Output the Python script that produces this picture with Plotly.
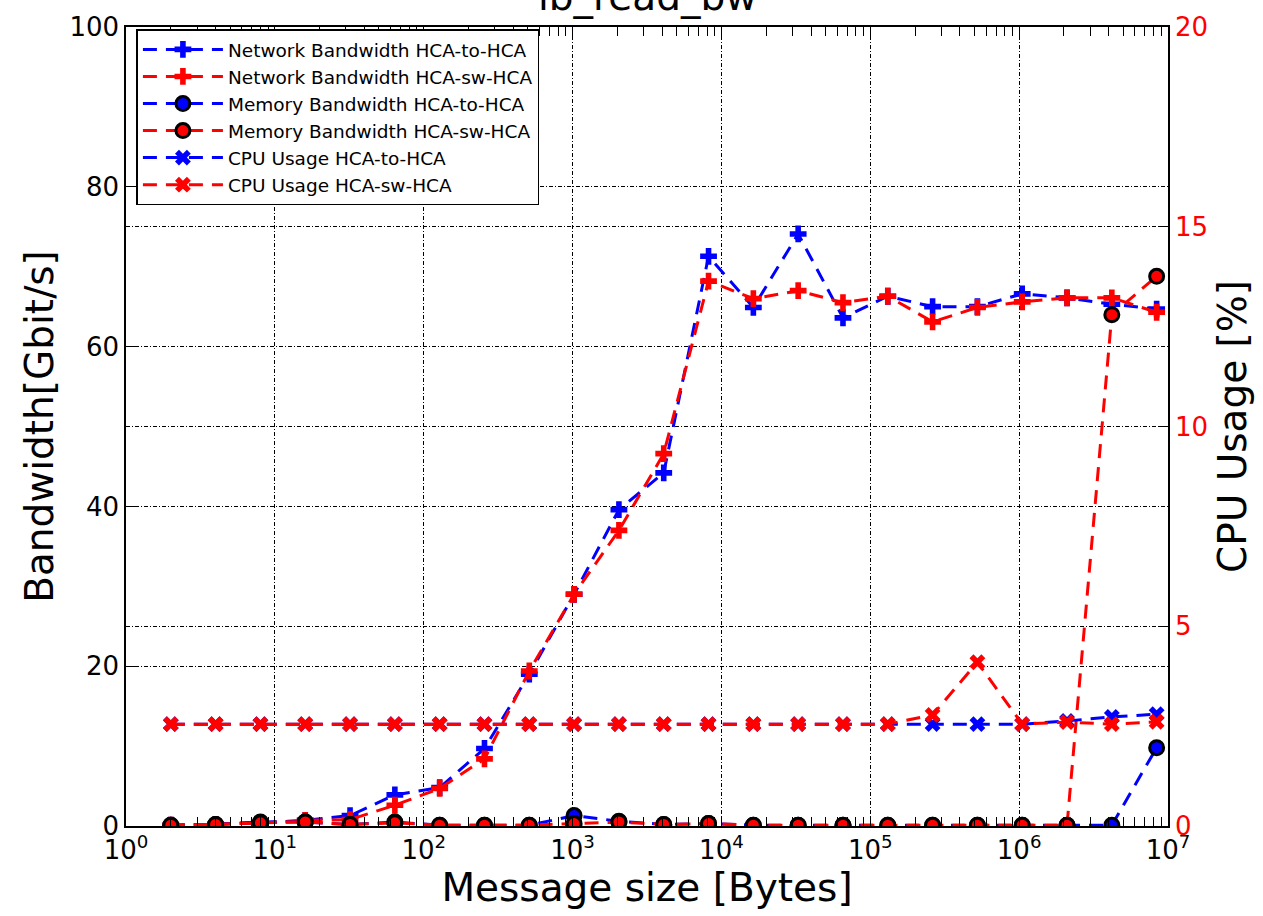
import plotly.graph_objects as go

msg_size = [2 ** k for k in range(1, 24)]

net_h2h = [0.1, 0.2, 0.4, 0.7, 1.3, 3.9, 4.8, 9.7, 19.0, 29.0, 39.6, 44.2, 71.3,
           64.9, 74.1, 63.6, 66.3, 65.0, 65.0, 66.6, 66.1, 65.3, 64.7]
net_sw = [0.1, 0.2, 0.4, 0.7, 0.8, 2.6, 4.7, 8.4, 19.4, 29.0, 37.0, 46.6, 68.2,
          66.0, 67.0, 65.5, 66.3, 63.1, 64.9, 65.6, 66.1, 66.1, 64.3]
mem_h2h = [0.1, 0.2, 0.5, 0.5, 0.2, 0.5, 0.1, 0.1, 0.1, 1.3, 0.6, 0.2, 0.3,
           0.1, 0.1, 0.1, 0.1, 0.1, 0.1, 0.1, 0.1, 0.1, 9.8]
mem_sw = [0.1, 0.2, 0.4, 0.5, 0.2, 0.4, 0.1, 0.1, 0.1, 0.3, 0.5, 0.2, 0.3,
          0.1, 0.1, 0.1, 0.1, 0.1, 0.1, 0.1, 0.1, 64.0, 68.8]
cpu_h2h = [2.55] * 17 + [2.55, 2.55, 2.55, 2.63, 2.73, 2.8]
cpu_sw = [2.55] * 17 + [2.78, 4.1, 2.55, 2.6, 2.55, 2.61]

x_tick_vals = [10 ** d for d in range(0, 8)]
x_tick_text = ["10<sup>%d</sup>" % d for d in range(0, 8)]
y_ticks = [0, 20, 40, 60, 80, 100]
y2_ticks = [0, 5, 10, 15, 20]

BLUE = "#0000ff"
RED = "#ff0000"
FONT = "DejaVu Sans"
DASH = "14px,9px"
GRID_DASH = "4px,2px,1px,2px"
TITLE_SIZE = 39

fig = go.Figure()

def add(name, y, color, kind, axis="y"):
    if kind == "plus":
        marker = dict(symbol="cross", size=14, color=color, line=dict(width=0))
    elif kind == "circle":
        marker = dict(symbol="circle", size=14, color=color, line=dict(color="black", width=3))
    else:
        marker = dict(symbol="x", size=14, color=color, line=dict(width=0))
    fig.add_trace(go.Scatter(
        x=msg_size, y=y, name=name, mode="lines+markers", yaxis=axis,
        line=dict(color=color, width=3, dash=DASH), marker=marker))

add("Network Bandwidth HCA-to-HCA", net_h2h, BLUE, "plus")
add("Network Bandwidth HCA-sw-HCA", net_sw, RED, "plus")
add("Memory Bandwidth HCA-to-HCA", mem_h2h, BLUE, "circle")
add("Memory Bandwidth HCA-sw-HCA", mem_sw, RED, "circle")
add("CPU Usage HCA-to-HCA", cpu_h2h, BLUE, "x", "y2")
add("CPU Usage HCA-sw-HCA", cpu_sw, RED, "x", "y2")

minor_vals = [m * 10 ** d for d in range(0, 7) for m in range(2, 10)]

fig.update_layout(
    width=1263, height=916,
    margin=dict(l=126, r=95, t=20, b=90),
    paper_bgcolor="white", plot_bgcolor="white",
    font=dict(family=FONT, color="black", size=26),
    showlegend=True,
    legend=dict(
        x=0.01, y=0.997, xanchor="left", yanchor="top",
        bgcolor="white", bordercolor="black", borderwidth=1.5,
        font=dict(family=FONT, size=18.5, color="black"),
        itemwidth=80, tracegroupgap=0,
    ),
    xaxis=dict(
        type="log", range=[0, 7],
        tickvals=x_tick_vals, ticktext=x_tick_text,
        ticks="inside", ticklen=9, tickwidth=1.2, tickcolor="black",
        showline=True, linecolor="black", linewidth=1.5, mirror="allticks",
        showgrid=True, gridcolor="black", gridwidth=1, griddash=GRID_DASH,
        zeroline=False,
        tickfont=dict(size=26),
        minor=dict(tickvals=minor_vals, ticks="inside", ticklen=5, tickcolor="black", showgrid=False),
        title=dict(text="Message size [Bytes]", font=dict(size=TITLE_SIZE), standoff=7),
    ),
    yaxis=dict(
        range=[0, 100], tickvals=y_ticks,
        ticks="inside", ticklen=9, tickwidth=1.2, tickcolor="black",
        showline=True, linecolor="black", linewidth=1.5,
        showgrid=True, gridcolor="black", gridwidth=1, griddash=GRID_DASH,
        zeroline=False,
        tickfont=dict(size=26),
        title=dict(text="Bandwidth[Gbit/s]", font=dict(size=TITLE_SIZE), standoff=4),
    ),
    yaxis2=dict(
        range=[0, 20], tickvals=y2_ticks, overlaying="y", side="right",
        ticks="inside", ticklen=9, tickwidth=1.2, tickcolor="black",
        showline=True, linecolor="black", linewidth=1.5,
        showgrid=True, gridcolor="black", gridwidth=1, griddash=GRID_DASH,
        zeroline=False,
        tickfont=dict(size=26, color=RED),
        title=dict(text="CPU Usage [%]", font=dict(size=TITLE_SIZE, color="black"), standoff=12),
    ),
    annotations=[dict(
        text="ib_read_bw", xref="paper", yref="paper", x=0.5, y=1.0,
        xanchor="center", yanchor="bottom", yshift=6, showarrow=False,
        font=dict(family=FONT, size=TITLE_SIZE, color="black"),
    )],
)

fig.write_html("out.html")
